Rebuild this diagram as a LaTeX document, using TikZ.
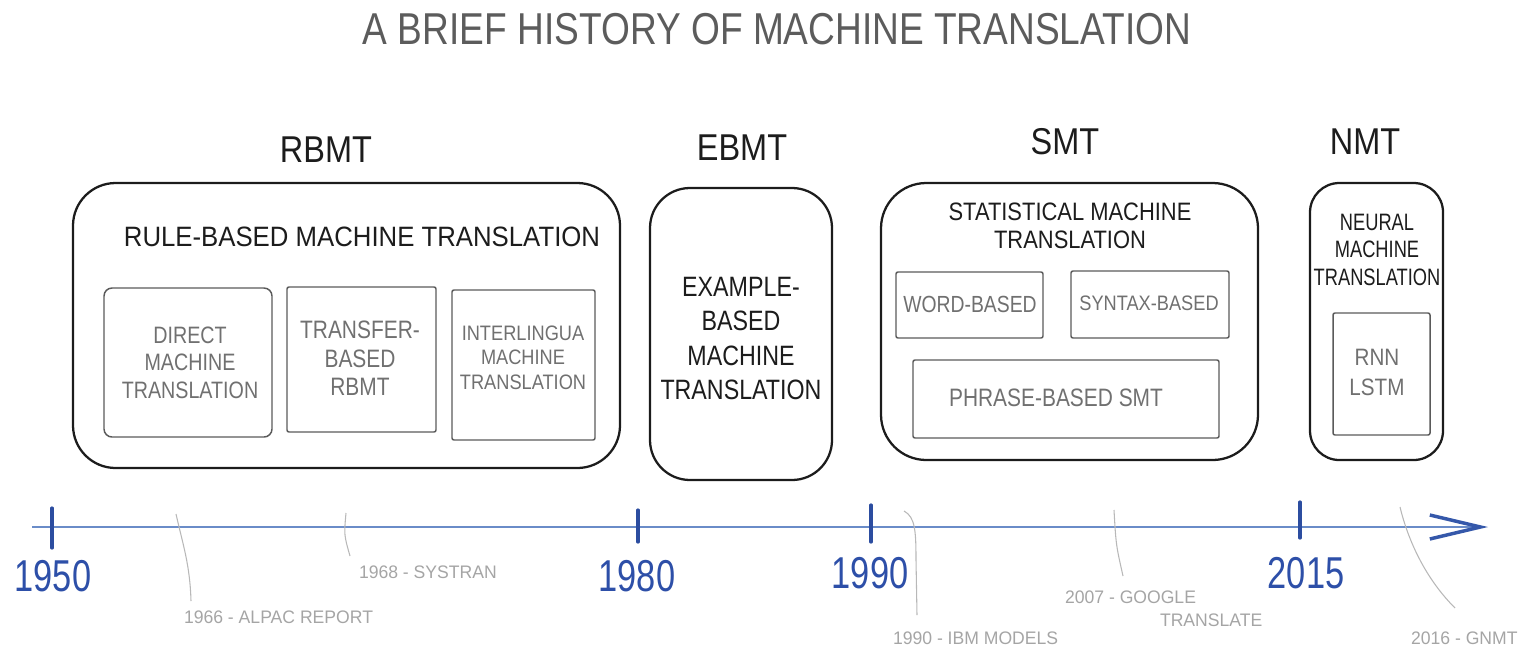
\documentclass[tikz,border=0pt]{standalone}
\usepackage{fontspec}
\setmainfont{Liberation Sans}
% condensed cuts of one sans family, for the hand-lettered look
\newfontfamily\handA[FakeStretch=0.83]{Liberation Sans}
\newfontfamily\handB[FakeStretch=0.87]{Liberation Sans}
\newfontfamily\handC[FakeStretch=0.92]{Liberation Sans}
\newfontfamily\handD[FakeStretch=0.97]{Liberation Sans}
\newfontfamily\handE[FakeStretch=0.77]{Liberation Sans}
\newcommand\fsz[2]{\fontsize{#1}{#2}\selectfont}
\usetikzlibrary{arrows.meta,fit}

\definecolor{titlegray}{HTML}{5C5C5C}
\definecolor{ink}{HTML}{1C1C1C}
\definecolor{subline}{HTML}{5A5A5A}
\definecolor{subtext}{HTML}{707070}
\definecolor{axisblue}{HTML}{6A8CC8}
\definecolor{arrowblue}{HTML}{3558AA}
\definecolor{tickblue}{HTML}{2C4DA0}
\definecolor{yearblue}{HTML}{2D4FA8}
\definecolor{evtext}{HTML}{A5A5A5}
\definecolor{evstroke}{HTML}{B8B8B8}

\begin{document}
\begin{tikzpicture}[x=0.75pt,y=-0.75pt,
  plain/.style={inner sep=0pt, outer sep=0pt},
  maintitle/.style={plain, font=\handA\fsz{33.5pt}{40pt}, text=titlegray},
  era/.style={plain, font=\handB\fsz{28pt}{34pt}, text=ink},
  bigbox/.style={plain, draw=ink, line width=1.7pt, rounded corners=32pt},
  subbox/.style={plain, draw=subline, line width=1.1pt, rounded corners=1.5pt},
  heading/.style={plain, align=center, text=ink},
  subtitle/.style={plain, align=center, text=subtext},
  axis/.style={draw=axisblue, line width=2.2pt,
    -{Straight Barb[length=38pt,width=18pt,color=arrowblue,line width=2.6pt]}},
  tickmark/.style={draw=tickblue, line width=2.4pt, line cap=round},
  year/.style={plain, font=\handE\fsz{33.5pt}{40pt}, text=yearblue},
  event/.style={plain, anchor=west, font=\handD\fsz{13.6pt}{16pt}, text=evtext},
  evline/.style={draw=evstroke, line width=0.8pt}
]
\useasboundingbox (0,0) rectangle (1524,647);

% ---- title and era labels
\node[maintitle] (title) at (777,29) {A BRIEF HISTORY OF MACHINE TRANSLATION};
\node[era] (rbmt) at (326,150) {RBMT};
\node[era] (ebmt) at (742,148) {EBMT};
\node[era] (smt)  at (1065,142) {SMT};
\node[era] (nmt)  at (1365,142) {NMT};

% ---- rule-based
\node[bigbox, fit={(73,183) (620,468)}] (rbmtbox) {};
\node[heading, font=\handC\fsz{21pt}{25pt}] (rbmthead) at (362,237)
  {RULE-BASED MACHINE TRANSLATION};
\node[subbox, fit={(104,288) (272,437)}, rounded corners=6pt] (directbox) {};
\node[subtitle, font=\handA\fsz{17.8pt}{20.6pt}] (directtxt) at (190,362.5)
  {DIRECT\\MACHINE\\TRANSLATION};
\node[subbox, fit={(287,287) (436,432)}] (transferbox) {};
\node[subtitle, font=\handA\fsz{18.9pt}{21.4pt}] (transfertxt) at (360,358.5)
  {TRANSFER-\\BASED\\RBMT};
\node[subbox, fit={(452,290) (595,440)}] (interbox) {};
\node[subtitle, font=\handB\fsz{15.7pt}{18.4pt}] (intertxt) at (523,357.5)
  {INTERLINGUA\\MACHINE\\TRANSLATION};

% ---- example-based
\node[bigbox, fit={(650,188) (832,480)}, rounded corners=30pt] (ebmtbox) {};
\node[heading, font=\handA\fsz{21pt}{25.9pt}] (ebmttxt) at (741,338.5)
  {EXAMPLE-\\BASED\\MACHINE\\TRANSLATION};

% ---- statistical
\node[bigbox, fit={(881,183) (1258,460)}, rounded corners=34pt] (smtbox) {};
\node[heading, font=\handB\fsz{18.9pt}{21pt}] (smthead) at (1070,226)
  {STATISTICAL MACHINE\\TRANSLATION};
\node[subbox, fit={(896,272) (1043,338)}] (wordbox) {};
\node[subtitle, font=\handA\fsz{17.5pt}{20pt}] (wordtxt) at (970,304) {WORD-BASED};
\node[subbox, fit={(1071,271) (1229,338)}] (syntaxbox) {};
\node[subtitle, font=\handB\fsz{15.7pt}{18pt}] (syntaxtxt) at (1149,303) {SYNTAX-BASED};
\node[subbox, fit={(913,360) (1219,438)}] (phrasebox) {};
\node[subtitle, font=\handA\fsz{18.9pt}{21pt}] (phrasetxt) at (1056,398) {PHRASE-BASED SMT};

% ---- neural
\node[bigbox, fit={(1310,183) (1443,460)}, rounded corners=22pt] (nmtbox) {};
\node[heading, font=\handE\fsz{17.8pt}{20.6pt}] (nmthead) at (1377,249.5)
  {NEURAL\\MACHINE\\TRANSLATION};
\node[subbox, fit={(1333,313) (1430,435)}] (rnnbox) {};
\node[subtitle, font=\handB\fsz{17.8pt}{22.5pt}] (rnntxt) at (1377,372) {RNN\\LSTM};

% ---- timeline
\coordinate (axL) at (32,527);
\coordinate (axR) at (1488,527);
\draw[axis] (axL) -- (axR);

\coordinate (t1950) at (52,508);
\coordinate (t1980) at (638,510);
\coordinate (t1990) at (871,505);
\coordinate (t2015) at (1300,502);
\draw[tickmark] (t1950) -- ++(0,40);
\draw[tickmark] (t1980) -- ++(0,32);
\draw[tickmark] (t1990) -- ++(0,37);
\draw[tickmark] (t2015) -- ++(0,36);

\node[year] (y1950) at (53,576) {1950};
\node[year] (y1980) at (637,576) {1980};
\node[year] (y1990) at (870,573) {1990};
\node[year] (y2015) at (1306,573) {2015};

% ---- events
\node[event] (e1966) at (184,617) {1966 - ALPAC REPORT};
\node[event] (e1968) at (359,572) {1968 - SYSTRAN};
\node[event] (e1990) at (893,638) {1990 - IBM MODELS};
\node[event] (e2007) at (1065,597) {2007 - GOOGLE};
\node[event] (e2007b) at (1160,620) {TRANSLATE};
\node[event] (e2016) at (1411,638) {2016 - GNMT};

\coordinate (a1966) at (176,514);  \coordinate (b1966) at (191,601);
\coordinate (a1968) at (346,513);  \coordinate (b1968) at (350,556);
\coordinate (a1990) at (904,511);  \coordinate (b1990) at (917,615);
\coordinate (a2007) at (1114,510); \coordinate (b2007) at (1123,576);
\coordinate (a2016) at (1400,507); \coordinate (b2016) at (1455,608);
\draw[evline] (a1966) .. controls (183,545) and (190,565) .. (b1966);
\draw[evline] (a1968) .. controls (344,535) .. (b1968);
\draw[evline] (a1990) .. controls (915,517) and (916,530) .. (916,560) -- (b1990);
\draw[evline] (a2007) .. controls (1116,545) .. (b2007);
\draw[evline] (a2016) .. controls (1408,540) and (1425,578) .. (b2016);
\end{tikzpicture}
\end{document}
